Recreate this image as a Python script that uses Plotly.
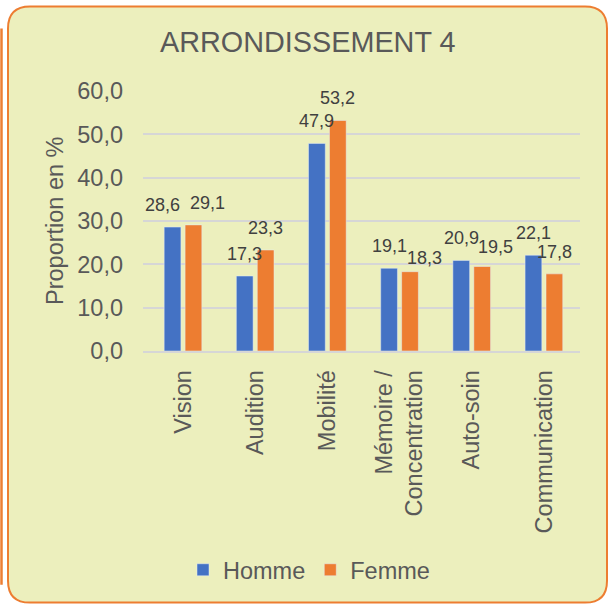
import plotly.graph_objects as go

categories = ["Vision", "Audition", "Mobilité", "Mémoire /<br>Concentration", "Auto-soin", "Communication"]
homme = [28.6, 17.3, 47.9, 19.1, 20.9, 22.1]
femme = [29.1, 23.3, 53.2, 18.3, 19.5, 17.8]
y_ticks = [0, 10, 20, 30, 40, 50, 60]

# label nudges (pixels) to mimic the hand-placed labels
homme_dx = [-10, 0, 0, 0, 0, 0]
homme_dy = [0, 0, 0, 0, 0, 0]
femme_dx = [14, 0, 0, 14, 13, 0]
femme_dy = [0, 0, 0, -8, -2, 0]

W, H = 609, 605
L, R, T, B = 143, 29, 90.6, 254
pw, ph = W - L - R, H - T - B

def px(x):
    return (x - L) / pw

def py(y):
    return 1 - (y - T) / ph

BLUE = "#4472C4"
ORANGE = "#ED7D31"
TXT = "#595959"
FONT = "Liberation Sans, Arial, sans-serif"
FS = 23.5

fig = go.Figure()
fig.add_trace(go.Bar(name="Homme", x=categories, y=homme, marker_color=BLUE))
fig.add_trace(go.Bar(name="Femme", x=categories, y=femme, marker_color=ORANGE))

fmt = lambda v: f"{v:.1f}".replace(".", ",")
half = 10.5
ann = []
for i, c in enumerate(categories):
    ann.append(dict(x=c, y=homme[i], xref="x", yref="y", text=fmt(homme[i]), showarrow=False,
                    xshift=-half + homme_dx[i], yshift=22 + homme_dy[i],
                    yanchor="middle", xanchor="center", font=dict(size=18, color="#404040", family=FONT)))
    ann.append(dict(x=c, y=femme[i], xref="x", yref="y", text=fmt(femme[i]), showarrow=False,
                    xshift=half + femme_dx[i], yshift=22 + femme_dy[i],
                    yanchor="middle", xanchor="center", font=dict(size=18, color="#404040", family=FONT)))

ann.append(dict(x=px(55), y=0.5, xref="paper", yref="paper", text="Proportion en %", textangle=-90,
                showarrow=False, xanchor="center", yanchor="middle",
                font=dict(size=FS, color=TXT, family=FONT)))
ann.append(dict(x=px(307.5), y=py(42), xref="paper", yref="paper", text="ARRONDISSEMENT 4",
                showarrow=False, xanchor="center", yanchor="middle",
                font=dict(size=28.8, color=TXT, family=FONT)))

# rounded background box
x0, x1, y0, y1, r = 8, 607, 6, 603, 22
path = (f"M {px(x0+r)},{py(y0)} L {px(x1-r)},{py(y0)} Q {px(x1)},{py(y0)} {px(x1)},{py(y0+r)} "
        f"L {px(x1)},{py(y1-r)} Q {px(x1)},{py(y1)} {px(x1-r)},{py(y1)} "
        f"L {px(x0+r)},{py(y1)} Q {px(x0)},{py(y1)} {px(x0)},{py(y1-r)} "
        f"L {px(x0)},{py(y0+r)} Q {px(x0)},{py(y0)} {px(x0+r)},{py(y0)} Z")
shapes = [
    dict(type="path", path=path, xref="paper", yref="paper", layer="below",
         fillcolor="#ECEFBD", line=dict(color=ORANGE, width=2)),
    dict(type="line", x0=px(1.5), x1=px(1.5), y0=py(28), y1=py(585), xref="paper", yref="paper",
         layer="below", line=dict(color=ORANGE, width=2.5)),
]

fig.update_layout(
    width=W, height=H,
    margin=dict(l=L, r=R, t=T, b=B, pad=0),
    paper_bgcolor="white", plot_bgcolor="rgba(0,0,0,0)",
    separators=", ",
    barmode="group", bargap=0.42, bargroupgap=0.2,
    font=dict(family=FONT, color=TXT),
    annotations=ann, shapes=shapes,
    legend=dict(orientation="h", xref="container", yref="container", x=309 / W, y=1 - 570 / H,
                xanchor="center", yanchor="middle", font=dict(size=FS, color=TXT, family=FONT),
                bgcolor="rgba(0,0,0,0)", itemwidth=30),
    showlegend=True,
)
fig.update_yaxes(range=[0, 60], tickvals=y_ticks, tickformat=".1f", showgrid=True, gridcolor="#D6D6D6",
                 gridwidth=1.5, zeroline=False, showline=False, ticklabelstandoff=19,
                 tickfont=dict(size=FS, color=TXT, family=FONT))
fig.update_xaxes(showline=True, linecolor="#D6D6D6", linewidth=1.5, tickangle=-90, ticklabelstandoff=8,
                 tickfont=dict(size=FS, color=TXT, family=FONT))

fig.write_html("out.html", config={"displayModeBar": False},
               post_script="document.body.style.margin='0';document.body.style.overflow='hidden';")
